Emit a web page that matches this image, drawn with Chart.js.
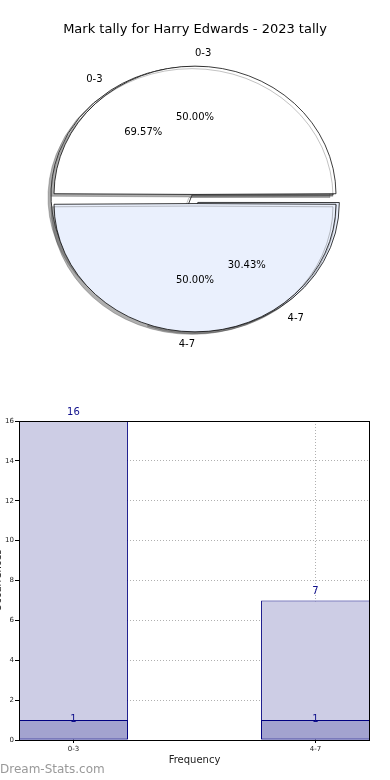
<!DOCTYPE html>
<html>
<head>
<meta charset="utf-8">
<script src="https://cdn.jsdelivr.net/npm/chart.js@4.4.0/dist/chart.umd.min.js"></script>
<style>
body { margin: 0; background: #fff; width: 390px; height: 780px; overflow: hidden; position: relative; }
.box { position: absolute; left: 0; width: 390px; height: 390px; }
</style>
</head>
<body>
<div class="box" style="top:0"><canvas id="pieBack"></canvas></div>
<div class="box" style="top:0"><canvas id="pieFront"></canvas></div>
<div class="box" style="top:390px"><canvas id="barChart"></canvas></div>
<script>
const titulo = 'Mark tally for Harry Edwards - 2023 tally';
const categorias = ['0-3', '4-7'];
const tally = [16, 7];
const otros = [1, 1];
const yTicks = [0, 2, 4, 6, 8, 10, 12, 14, 16];
const pieColores = ['#ffffff', '#eaf0fd'];

const FONT = 'DejaVu Sans';
const SQUASH = 0.91; // la torta sale algo achatada

function suma(arr) {
	return arr.reduce((s, v) => s + v, 0);
}

// achata la torta y le pone sombra
const squash = {
	id: 'squash',
	beforeDatasetsDraw(chart) {
		const ctx = chart.ctx, a = chart.chartArea;
		const cy = (a.top + a.bottom) / 2;
		ctx.save();
		ctx.translate(0, cy);
		ctx.scale(1, SQUASH);
		ctx.translate(0, -cy);
		ctx.shadowColor = 'rgba(77,77,77,0.45)';
		ctx.shadowOffsetX = -3;
		ctx.shadowOffsetY = 2.5;
	},
	afterDatasetsDraw(chart) {
		chart.ctx.restore();
	}
};

function drawPieTexts(chart, ctx) {
	const meta = chart.getDatasetMeta(0);
	const data = chart.data.datasets[0].data;
	const total = suma(data);
	const a = chart.chartArea;
	const cy = (a.top + a.bottom) / 2;
	ctx.save();
	ctx.font = '10px "' + FONT + '"';
	ctx.fillStyle = '#000';
	ctx.textBaseline = 'middle';
	meta.data.forEach((arc, i) => {
		const p = arc.getProps(['x', 'y', 'startAngle', 'endAngle', 'outerRadius', 'circumference']);
		const off = (arc.options.offset || 0) / 4;
		const mid = (p.startAngle + p.endAngle) / 2;
		const fix = 1 - Math.sin(Math.min(Math.PI, p.circumference));
		const r = p.outerRadius + off * fix;
		const ox = p.x + Math.cos(mid) * off;
		const oy = p.y + Math.sin(mid) * off;
		const at = k => [ox + Math.cos(mid) * k * r, cy + SQUASH * (oy + Math.sin(mid) * k * r - cy)];
		let [x, y] = at(0.6);
		ctx.textAlign = 'center';
		ctx.fillText((100 * data[i] / total).toFixed(2) + '%', x, y);
		[x, y] = at(1.1);
		const c = Math.cos(mid);
		const left = Math.abs(c) < 1e-6 ? Math.sin(mid) < 0 : c > 0;
		ctx.textAlign = left ? 'left' : 'right';
		ctx.fillText(chart.data.labels[i], x, y);
	});
	ctx.restore();
}

function pieConfig(data, radius, offsets, padding, extra) {
	return {
		type: 'pie',
		data: {
			labels: categorias,
			datasets: [{
				data: data,
				backgroundColor: pieColores,
				borderColor: '#000',
				borderWidth: 0.8,
				radius: radius,
				offset: offsets,
				hoverOffset: 0
			}]
		},
		options: {
			animation: false,
			events: [],
			responsive: true,
			maintainAspectRatio: false,
			rotation: 90 + 360 * data[1] / suma(data),
			layout: { padding: padding },
			plugins: Object.assign({
				legend: { display: false },
				tooltip: { enabled: false }
			}, extra || {})
		},
		plugins: [squash]
	};
}

const pieBack = new Chart(document.getElementById('pieBack'),
	pieConfig(tally, 141, [0, 40], { left: 0, right: 6, top: 0, bottom: 0 }));

const pieFront = new Chart(document.getElementById('pieFront'), (() => {
	const cfg = pieConfig(otros, 136, [20, 20], { left: 0, right: 0, top: 0, bottom: 29.6 }, {
		title: {
			display: true,
			text: titulo,
			color: '#000',
			font: { family: FONT, size: 13, weight: 'normal' },
			padding: { top: 22, bottom: 0 }
		}
	});
	cfg.plugins.push({
		id: 'pieTexts',
		afterDraw(chart) {
			drawPieTexts(pieBack, chart.ctx);
			drawPieTexts(chart, chart.ctx);
		}
	});
	return cfg;
})());

// textos del grafico de barras
const barTexts = {
	id: 'barTexts',
	afterDraw(chart) {
		const ctx = chart.ctx, a = chart.chartArea;
		ctx.save();
		ctx.strokeStyle = '#000';
		ctx.lineWidth = 1;
		ctx.strokeRect(Math.round(a.left) + 0.5, Math.round(a.top) + 0.5,
			Math.round(a.right - a.left) - 1, Math.round(a.bottom - a.top));

		ctx.font = '10px "' + FONT + '"';
		ctx.textAlign = 'center';
		ctx.textBaseline = 'middle';
		ctx.fillStyle = '#10108c';
		chart.data.datasets.forEach((ds, di) => {
			const meta = chart.getDatasetMeta(di);
			const gap = ds.order === 2 ? 9 : 1;
			meta.data.forEach((bar, i) => {
				ctx.fillText(String(ds.data[i].y), bar.x, bar.y - gap);
			});
		});

		ctx.fillStyle = '#222';
		ctx.fillText('Frequency', (a.left + a.right) / 2, a.bottom + 20);

		ctx.save();
		ctx.translate(-2, (a.top + a.bottom) / 2);
		ctx.rotate(-Math.PI / 2);
		ctx.fillText('Occurrences', 0, 0);
		ctx.restore();

		ctx.font = '12px "' + FONT + '"';
		ctx.textAlign = 'left';
		ctx.fillStyle = '#999';
		ctx.fillText('Dream-Stats.com', 0, a.bottom + 30);
		ctx.restore();
	}
};

const tickFont = { family: FONT, size: 7 };

new Chart(document.getElementById('barChart'), {
	type: 'bar',
	data: {
		datasets: [{
			data: categorias.map((c, i) => ({ x: i, y: tally[i] })),
			backgroundColor: '#cdcde5',
			borderColor: '#000080',
			borderWidth: 1,
			borderSkipped: false,
			grouped: false,
			order: 2,
			barPercentage: 0.45,
			categoryPercentage: 1
		}, {
			data: categorias.map((c, i) => ({ x: i, y: otros[i] })),
			backgroundColor: '#a3a3cf',
			borderColor: '#000080',
			borderWidth: 1,
			borderSkipped: false,
			grouped: false,
			order: 1,
			barPercentage: 0.45,
			categoryPercentage: 1
		}]
	},
	options: {
		animation: false,
		events: [],
		responsive: true,
		maintainAspectRatio: false,
		layout: { padding: { top: 31, right: 20, left: 0, bottom: 0 } },
		plugins: {
			legend: { display: false },
			tooltip: { enabled: false }
		},
		scales: {
			x: {
				type: 'linear',
				min: -0.225,
				max: 1.225,
				offset: false,
				z: 1,
				afterBuildTicks: s => { s.ticks = categorias.map((c, i) => ({ value: i })); },
				afterFit: s => { s.height = 40; },
				ticks: {
					callback: v => categorias[v] ?? '',
					font: tickFont,
					color: '#222',
					padding: 2,
					maxRotation: 0,
					autoSkip: false
				},
				grid: { offset: false, color: '#b0b0b0', tickColor: '#000', tickLength: 3, tickBorderDash: [] },
				border: { display: false, dash: [1, 2] }
			},
			y: {
				min: 0,
				max: 16,
				z: 1,
				afterBuildTicks: s => { s.ticks = yTicks.map(v => ({ value: v })); },
				afterFit: s => { s.width = 19; },
				ticks: { font: tickFont, color: '#222', padding: 1 },
				grid: { color: '#b0b0b0', tickColor: '#000', tickLength: 4, tickBorderDash: [] },
				border: { display: false, dash: [1, 2] }
			}
		}
	},
	plugins: [barTexts]
});
</script>
</body>
</html>
